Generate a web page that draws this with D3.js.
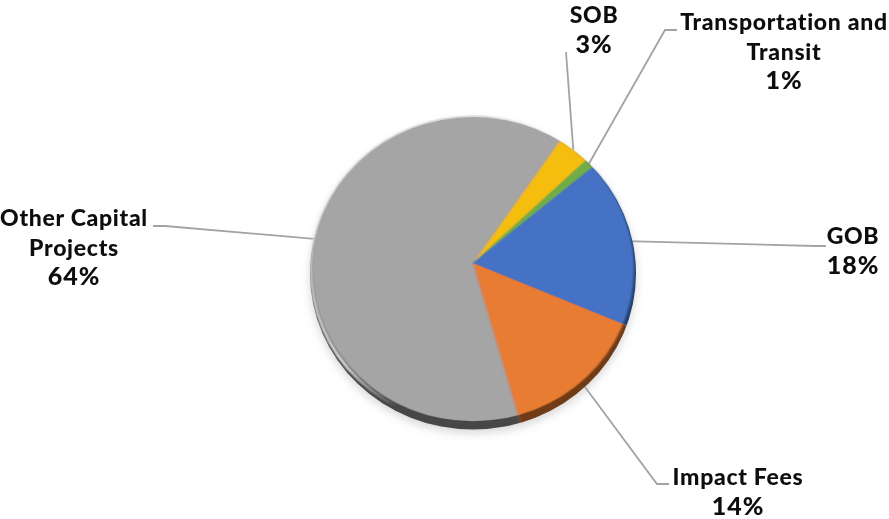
<!DOCTYPE html>
<html><head><meta charset="utf-8">
<script src="https://cdn.jsdelivr.net/npm/d3@7/dist/d3.min.js"></script>
<style>html,body{margin:0;padding:0;background:#fff}svg{display:block}
text{font-family:"Lato",sans-serif;font-weight:900;fill:#0d0d0d;font-size:23px;letter-spacing:.7px;text-anchor:middle}
.pct{font-size:25px;letter-spacing:1px}</style>
</head><body><svg id="c" width="889" height="519"></svg>
<script>
const categories=["SOB","Transportation and Transit","GOB","Impact Fees","Other Capital Projects"];
const values=[3.4,1.0,17.5,14.2,63.9];
const percentLabels=["3%","1%","18%","14%","64%"];
const colors=["#f5bd10","#70ad47","#4472c4","#e87c30","#a5a5a5"];
const darkColors=["#8a6a05","#3d6027","#23406f","#6f3a12","#474747"];
const labelLines=[["SOB"],["Transportation and","Transit"],["GOB"],["Impact Fees"],["Other Capital","Projects"]];
const labelX=[594,784,853,738,74];
const labelY=[23,30,244,485,226];
const elbows=[[[566,52]],[[665,30],[677,30]],[[815,246],[826,246]],[[657,484],[669,484]],[[165,226],[153,226]]];

const cx=473,cy=263,sy=.957,R=163,start=34.2*Math.PI/180;
const svg=d3.select("#c"),defs=svg.append("defs");
const pie=d3.pie().sort(null).startAngle(start).endAngle(start+2*Math.PI)(values);
const wedge=d3.arc().innerRadius(0).outerRadius(230);
const rimArc=d3.arc().innerRadius(R-8).outerRadius(R-8);

defs.append("clipPath").attr("id","disc").append("circle").attr("cx",0).attr("cy",11).attr("r",R);
defs.append("clipPath").attr("id","face").append("ellipse").attr("cx",0).attr("cy",6.4).attr("rx",161).attr("ry",159);
const blur=(id,s)=>defs.append("filter").attr("id",id).attr("x","-20%").attr("y","-20%").attr("width","140%").attr("height","140%")
  .append("feGaussianBlur").attr("stdDeviation",s);
blur("sh",5);blur("soft",.8);blur("txt",.25);
const lg=defs.append("linearGradient").attr("id","rim").attr("x1",0).attr("y1",0).attr("x2",1).attr("y2",.55);
lg.append("stop").attr("offset",0).attr("stop-color","#e4e4e4");
lg.append("stop").attr("offset",.42).attr("stop-color","#dcdcdc");
lg.append("stop").attr("offset",.6).attr("stop-color","#dcdcdc").attr("stop-opacity",0);

// leader lines, under the disc
const line=d3.line();
svg.append("g").selectAll("path").data(pie).join("path")
  .attr("fill","none").attr("stroke","#a3a3a3").attr("stroke-width",1.8)
  .attr("d",(d,i)=>{const c=rimArc.centroid(d);return line([[cx+c[0],cy+c[1]*sy],...elbows[i]]);});

const g=svg.append("g").attr("transform",`translate(${cx},${cy}) scale(1,${sy})`);
g.append("circle").attr("cx",0).attr("cy",15).attr("r",R).attr("fill","#b5b5b5").attr("opacity",.55).attr("filter","url(#sh)");
const side=g.append("g").attr("clip-path","url(#disc)").attr("filter","url(#soft)");
side.selectAll("path").data(pie).join("path").attr("d",wedge).attr("fill",(d,i)=>darkColors[i]);
g.append("ellipse").attr("cx",0).attr("cy",8).attr("rx",161.5).attr("ry",161)
  .attr("fill","none").attr("stroke","url(#rim)").attr("stroke-width",3).attr("filter","url(#soft)");
const face=g.append("g").attr("filter","url(#soft)").append("g").attr("clip-path","url(#face)");
face.selectAll("path").data(pie).join("path").attr("d",wedge).attr("fill",(d,i)=>colors[i]);

// labels
const labels=svg.append("g").attr("filter","url(#txt)").selectAll("text").data(categories).join("text")
  .attr("x",(d,i)=>labelX[i]).attr("y",(d,i)=>labelY[i]);
labels.each(function(d,i){
  const t=d3.select(this),ls=labelLines[i];
  ls.forEach((s,k)=>t.append("tspan").attr("x",labelX[i]).attr("y",labelY[i]+k*29.5).text(s));
  t.append("tspan").attr("class","pct").attr("x",labelX[i]).attr("y",labelY[i]+ls.length*29.5).text(percentLabels[i]);
});
</script></body></html>
